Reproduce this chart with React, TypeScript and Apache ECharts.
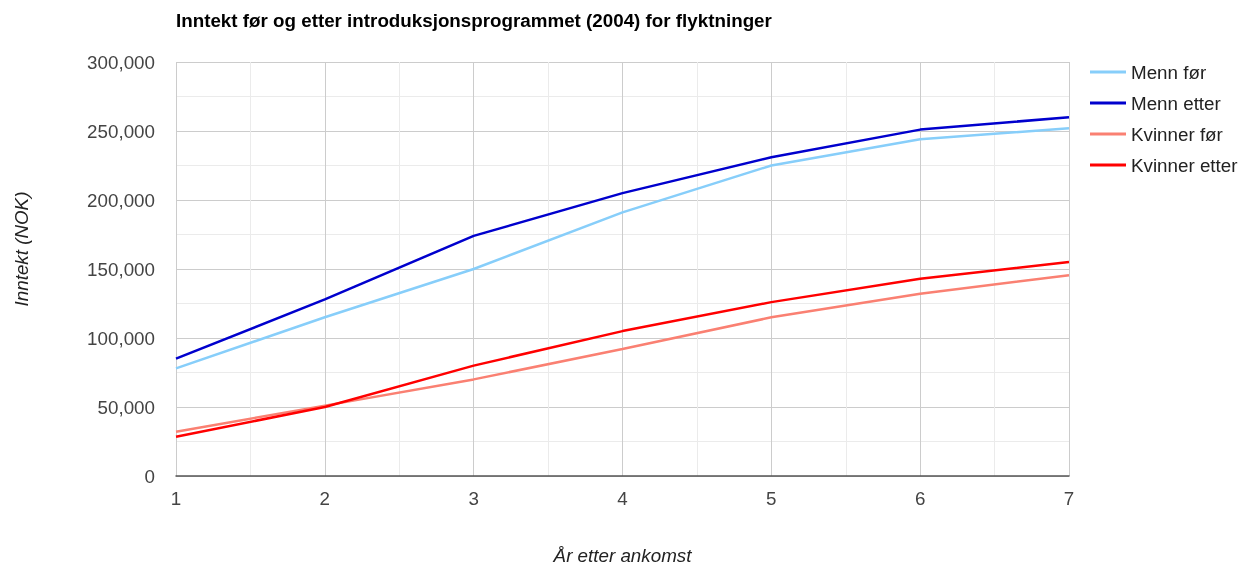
import React, { useEffect, useRef } from "react";
import * as echarts from "echarts";

const years = [1, 2, 3, 4, 5, 6, 7];
const mennFor = [78000, 115000, 150000, 191000, 225000, 244000, 252000];
const mennEtter = [85000, 128000, 174000, 205000, 231000, 251000, 260000];
const kvinnerFor = [32000, 51000, 70000, 92000, 115000, 132000, 145500];
const kvinnerEtter = [28500, 50000, 80000, 105000, 126000, 143000, 155000];

const seriesNames = ["Menn før", "Menn etter", "Kvinner før", "Kvinner etter"];
const seriesColors = ["#87CEFA", "#0000CD", "#FA8072", "#FF0000"];
const seriesData = [mennFor, mennEtter, kvinnerFor, kvinnerEtter];

const FONT = "'Liberation Sans', Arial, sans-serif";
const FS = 18.8;

export default function App() {
  const ref = useRef<HTMLDivElement>(null);
  useEffect(() => {
    if (!ref.current) return;
    const chart = echarts.init(ref.current, null, { renderer: "svg" });
    chart.setOption({
      animation: false,
      textStyle: { fontFamily: FONT },
      title: {
        text: "Inntekt før og etter introduksjonsprogrammet (2004) for flyktninger",
        left: 171,
        top: 6,
        textStyle: { fontFamily: FONT, fontSize: FS, fontWeight: "bold", color: "#000" },
      },
      legend: {
        orient: "vertical",
        left: 1085,
        top: 56,
        icon: "rect",
        itemWidth: 36,
        itemHeight: 3,
        itemGap: 9,
        textStyle: { fontFamily: FONT, fontSize: FS, color: "#222", lineHeight: 22 },
        data: seriesNames,
      },
      grid: {
        left: 176,
        right: 173,
        top: 62,
        bottom: 89,
        containLabel: false,
        outerBoundsMode: "none",
      },
      xAxis: {
        type: "value",
        min: 1,
        max: 7,
        interval: 1,
        name: "År etter ankomst",
        nameLocation: "middle",
        nameGap: 70,
        nameTextStyle: { fontFamily: FONT, fontSize: FS, fontStyle: "italic", color: "#222" },
        axisLine: { show: true, onZero: false, lineStyle: { color: "#555", width: 1.5 } },
        axisTick: { show: false },
        axisLabel: { fontFamily: FONT, fontSize: FS, color: "#444", margin: 13 },
        splitLine: { show: true, lineStyle: { color: "#cccccc", width: 1 } },
        minorTick: { show: false, splitNumber: 2 },
        minorSplitLine: { show: true, lineStyle: { color: "#ebebeb", width: 1 } },
      },
      yAxis: {
        type: "value",
        min: 0,
        max: 300000,
        interval: 50000,
        name: "Inntekt (NOK)",
        nameLocation: "middle",
        nameGap: 145,
        nameRotate: 90,
        nameTextStyle: {
          fontFamily: FONT,
          fontSize: FS,
          fontStyle: "italic",
          color: "#222",
          padding: [0, 0, 0, 40],
        },
        axisLine: { show: false },
        axisTick: { show: false },
        axisLabel: {
          fontFamily: FONT,
          fontSize: FS,
          color: "#444",
          margin: 21,
          formatter: (v: number) => v.toLocaleString("en-US"),
        },
        splitLine: { show: true, lineStyle: { color: "#cccccc", width: 1 } },
        minorTick: { show: false, splitNumber: 2 },
        minorSplitLine: { show: true, lineStyle: { color: "#ebebeb", width: 1 } },
      },
      series: seriesNames.map((name, i) => ({
        name,
        type: "line",
        data: years.map((y, j) => [y, seriesData[i][j]]),
        showSymbol: false,
        symbol: "none",
        lineStyle: { color: seriesColors[i], width: 2.5 },
        itemStyle: { color: seriesColors[i] },
      })),
    });
    return () => chart.dispose();
  }, []);
  return (
    <div
      ref={ref}
      style={{ position: "fixed", left: 0, top: 0, width: 1242, height: 565 }}
    />
  );
}
